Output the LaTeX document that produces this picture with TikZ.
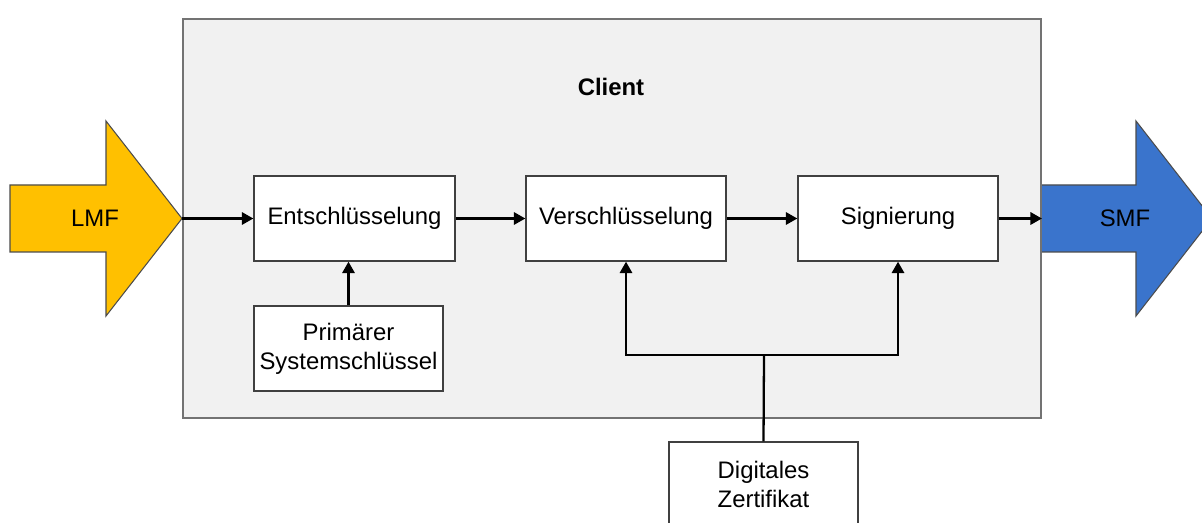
\documentclass[tikz,border=0pt]{standalone}
\usepackage{fontspec}
\setmainfont{Liberation Sans}
\usetikzlibrary{arrows.meta}
\definecolor{lmfyellow}{HTML}{FFC000}
\definecolor{smfblue}{HTML}{3A74CC}
\definecolor{clientgray}{HTML}{F1F1F1}
\begin{document}
\begin{tikzpicture}[x=0.02cm,y=-0.02cm]

    \tikzset{
      block/.style={
        draw=black!75,
        fill=white,
        line width=0.8pt,
        align=center,
        inner sep=0pt,
        minimum height=1.7cm,
        font=\fontsize{13.6}{16.5}\selectfont,
      },
      flow/.style={
        line width=1.3pt,
        -{Triangle[length=6.5pt,width=7pt]},
      },
      bigarrow/.style={
        draw=black!70,
        line width=0.6pt,
      },
    }
    \useasboundingbox (0,0) rectangle (1202,523);
    \clip (0,0) rectangle (1202,523);
	\draw[bigarrow,fill=lmfyellow] (10,185)--(106,185)--(106,121)--(182,218.5)--(106,316)--(106,252)--(10,252)--cycle;
	\draw[bigarrow,fill=smfblue] (1041,185)--(1136,185)--(1136,121)--(1212,218.5)--(1136,316)--(1136,252)--(1041,252)--cycle;
	\node[font=\fontsize{13.6}{16.5}\selectfont] (lmf) at (95,218.5) {LMF};
	\node[font=\fontsize{13.6}{16.5}\selectfont] (smf) at (1125,218.5) {SMF};

	\node[draw=black!55,fill=clientgray,line width=1.1pt,minimum width=17.16cm,minimum height=8cm] (client) at (612,218.5) {};
	\node[font=\bfseries\fontsize{13.6}{16.5}\selectfont] (title) at (611,87) {Client};

	\node[block,minimum width=4.02cm] (ent) at (354.5,218.5) {Entschlüsselung};
	\node[block,minimum width=4cm] (ver) at (626,218.5) {Verschlüsselung};
	\node[block,minimum width=4cm] (sig) at (898,218.5) {Signierung};
	\node[block,minimum width=3.78cm] (prim) at (348.5,348.5) {Primärer\\Systemschlüssel};
	\node[block,minimum width=3.78cm] (dig) at (763.5,484.5) {Digitales\\Zertifikat};
	\coordinate (split) at (764,355);

	\draw[flow] (client.west)--(ent);
	\draw[flow] (ent)--(ver);
	\draw[flow] (ver)--(sig);
	\draw[flow] (sig)--(client.east);
	\draw[flow] (prim.north)--(prim.north |- ent.south);
	\draw[line width=1.3pt] (dig.north)--(split);
	\draw[flow] (split)-|(ver.south);
	\draw[flow] (split)-|(sig.south);

\end{tikzpicture}
\end{document}
